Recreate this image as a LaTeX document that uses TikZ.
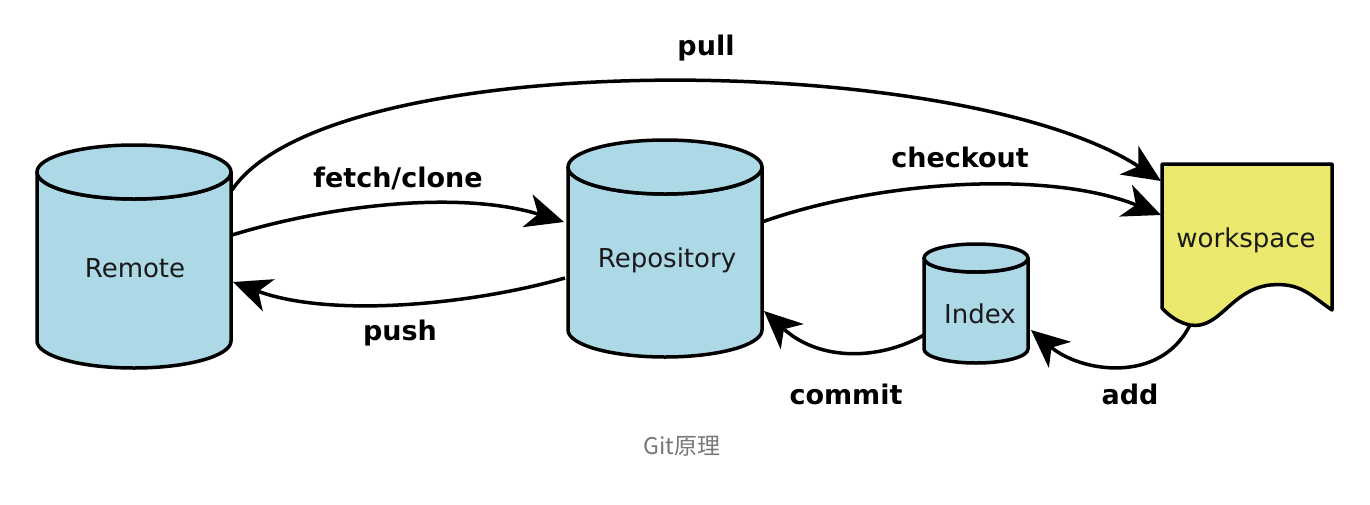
\documentclass[tikz,border=0pt]{standalone}
\usepackage{fontspec}
\setmainfont{DejaVu Sans}
\newfontfamily\cjk{Noto Sans CJK SC}
\usetikzlibrary{arrows.meta}
\definecolor{cylblue}{RGB}{173,216,230}
\definecolor{wsyellow}{RGB}{234,233,110}
\definecolor{capgray}{RGB}{120,120,120}
\tikzset{
  shapeline/.style={draw=black, line width=3.5pt, line join=round},
  conn/.style={line width=3.5pt, -{Stealth[length=38pt,width=34pt,inset=11pt]}},
  lbl/.style={font=\fontsize{27}{30}\selectfont\bfseries},
  ntext/.style={font=\fontsize{26}{30}\selectfont, text=black!90},
}
\newcommand\mycyl[5]{% cx, rx, ytop, ybot, ry
  \path[shapeline, fill=cylblue] (#1-#2,#3) -- (#1-#2,#4)
     arc[start angle=180, end angle=0, x radius=#2, y radius=#5] -- (#1+#2,#3)
     arc[start angle=0, end angle=180, x radius=#2, y radius=#5] -- cycle;
  \draw[shapeline, fill=cylblue] (#1,#3) ellipse[x radius=#2, y radius=#5];
}
\begin{document}
\begin{tikzpicture}[x=1pt, y=-1pt]
\useasboundingbox[fill=white] (0,0) rectangle (1370,504);
% cylinders
\mycyl{134}{97}{172}{341}{27}
\mycyl{665}{97}{167}{330}{27}
\mycyl{976}{52}{258}{349}{14}
% workspace
\path[shapeline, fill=wsyellow] (1162,164) -- (1332,164) -- (1332,310)
  .. controls (1310,295) and (1300,282) .. (1270,285)
  .. controls (1230,290) and (1220,330) .. (1190,325)
  .. controls (1180,323) and (1170,317) .. (1162,308) -- cycle;
% text nodes
\node[ntext] (remote) at (135,268) {Remote};
\node[ntext] (repo) at (667,260) {Repository};
\node[ntext] (index) at (980,314) {Index};
\node[ntext] (ws) at (1246,240) {workspace};
% connector endpoints
\coordinate (remA) at (232,190);
\coordinate (remB) at (232,235);
\coordinate (remC) at (233,282);
\coordinate (repA) at (564,222);
\coordinate (repB) at (565,278);
\coordinate (repC) at (762,222);
\coordinate (repD) at (764,311);
\coordinate (wsA) at (1161,181);
\coordinate (wsB) at (1161,215);
\coordinate (wsC) at (1190,325);
\coordinate (idxA) at (924,335);
\coordinate (idxB) at (1031,330);
% connectors
\draw[conn] (remA) .. controls (330,45) and (960,50) .. (wsA);
\draw[conn] (remB) .. controls (330,205) and (460,190) .. (repA);
\draw[conn] (repB) .. controls (470,305) and (330,318) .. (remC);
\draw[conn] (repC) .. controls (880,180) and (1050,170) .. (wsB);
\draw[conn] (idxA) .. controls (880,360) and (820,362) .. (repD);
\draw[conn] (wsC) .. controls (1160,385) and (1080,372) .. (idxB);
% labels
\node[lbl] (lpull) at (706,48) {pull};
\node[lbl] (lfetch) at (398,178) {fetch/clone};
\node[lbl] (lpush) at (400,333) {push};
\node[lbl] (lcheck) at (960,157) {checkout};
\node[lbl] (lcommit) at (846,394) {commit};
\node[lbl] (ladd) at (1130,394) {add};
\node[text=capgray, font=\cjk\fontsize{23}{26}\selectfont] (cap) at (682,446) {Git原理};
\end{tikzpicture}
\end{document}
